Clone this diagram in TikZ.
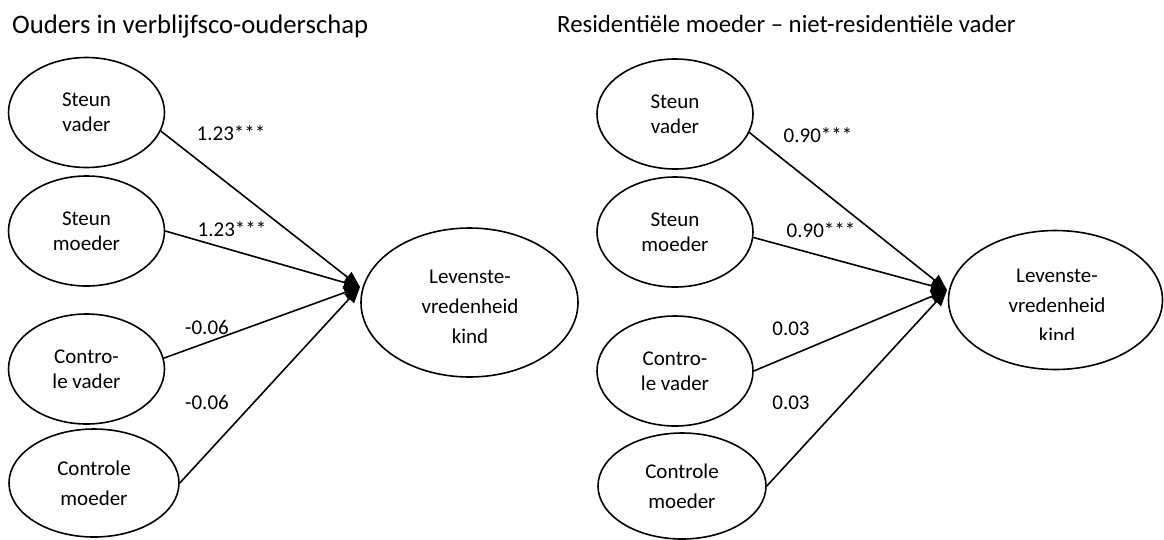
\documentclass[tikz,border=0pt]{standalone}
\usepackage{fontspec}
\setmainfont{Carlito}
\usetikzlibrary{arrows.meta,shapes.geometric}
\begin{document}
\begin{tikzpicture}[x=1pt,y=-1pt,
  ell/.style={draw, ellipse, line width=1.6pt, inner sep=0pt, align=center,
    font=\fontsize{21}{25}\selectfont},
  small/.style={ell, minimum width=156pt, minimum height=110pt},
  bigtxt/.style={align=center, inner sep=0pt, font=\fontsize{21}{30}\selectfont},
  coef/.style={inner sep=0pt, font=\fontsize{21}{25}\selectfont},
  ttl/.style={inner sep=0pt, anchor=base west},
  link/.style={line width=1.6pt, -{Triangle[length=16pt,width=13pt]}},
]
\useasboundingbox (0,0) rectangle (1164,539);

% titles
\node[ttl, font=\fontsize{26.7}{30}\selectfont] (t1) at (12,33) {Ouders in verblijfsco-ouderschap};
\node[ttl, font=\fontsize{24.8}{30}\selectfont] (t2) at (557,32) {Residentiële moeder – niet-residentiële vader};

% left panel
\node[small] (lsv) at (86.5,112.5) {Steun\\vader};
\node[small] (lsm) at (86.5,231) {Steun\\moeder};
\node[small] (lcv) at (86.5,369) {Contro-\\le vader};
\node[ell, minimum width=170pt, minimum height=108pt, font=\fontsize{21}{30}\selectfont] (lcm) at (94,483) {Controle\\moeder};
\node[ell, minimum width=217pt, minimum height=149pt] (lk) at (469.5,302.5) {};
\node[bigtxt] (lkt) at (470,307) {Levenste-\\vredenheid\\kind};
\coordinate (lt) at (360,287);

\draw[link] (lsv.-14) -- (lt);
\draw[link] (lsm.east) -- (lt);
\draw[link] (lcv.8) -- (lt);
\draw[link] (lcm.east) -- (lt);

\node[coef] (l1) at (231,133) {1.23***};
\node[coef] (l2) at (232,229) {1.23***};
\node[coef] (l3) at (207,327) {-0.06};
\node[coef] (l4) at (207,402) {-0.06};

% right panel
\node[small] (rsv) at (675,114) {Steun\\vader};
\node[small] (rsm) at (675,232) {Steun\\moeder};
\node[small] (rcv) at (675,371) {Contro-\\le vader};
\node[ell, minimum width=168pt, minimum height=106pt, font=\fontsize{21}{30}\selectfont] (rcm) at (682,486) {Controle\\moeder};
\node[ell, minimum width=214pt, minimum height=139pt] (rk) at (1055.5,300) {};
\begin{scope}
  \clip (985,250) rectangle (1130,339);
  \node[bigtxt] (rkt) at (1057,306) {Levenste-\\vredenheid\\kind};
\end{scope}
\coordinate (rt) at (947,290);

\draw[link] (rsv.-14) -- (rt);
\draw[link] (rsm.-4) -- (rt);
\draw[link] (rcv.east) -- (rt);
\draw[link] (rcm.east) -- (rt);

\node[coef] (r1) at (818,135) {0.90***};
\node[coef] (r2) at (821,230) {0.90***};
\node[coef] (r3) at (791,329) {0.03};
\node[coef] (r4) at (791,403) {0.03};
\end{tikzpicture}
\end{document}
